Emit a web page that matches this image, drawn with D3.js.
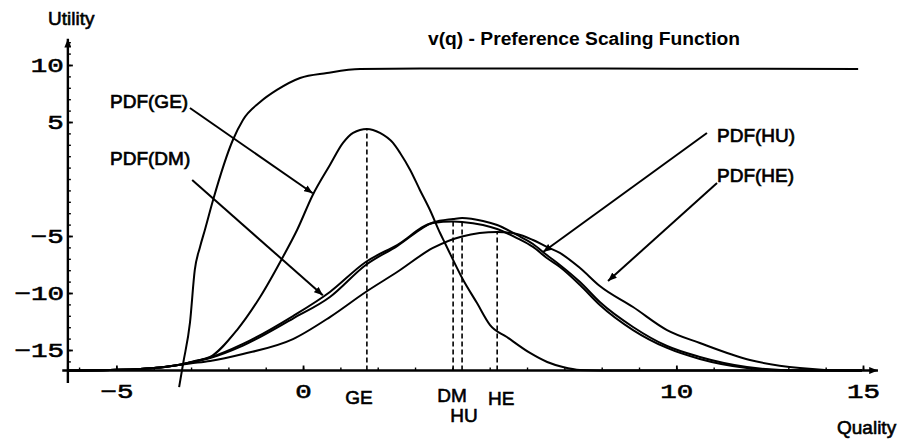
<!DOCTYPE html>
<html>
<head>
<meta charset="utf-8">
<script src="https://cdn.jsdelivr.net/npm/d3@7"></script>
<style>
  body { margin: 0; background: #fff; }
  svg { font-family: "Liberation Sans", Arial, sans-serif; }
</style>
</head>
<body>
<div id="chart"></div>
<script>
// ---- data: [quality, utility] ----
var vq = [[-3.32,-18.25],[-3.21,-16.14],[-3.03,-12.63],[-2.90,-7.98],[-2.76,-5.96],[-2.63,-4.47],
  [-2.41,-1.84],[-1.88,3.42],[-1.61,5.18],[-1.15,6.75],[-0.70,7.81],[-0.08,8.86],[0.64,9.30],
  [1.53,9.65],[3.13,9.69],[6.0,9.69],[10.0,9.68],[14.87,9.66]];

var pdfGE = [[-6.30,-16.80],[-5.17,-16.75],[-4.37,-16.67],[-3.83,-16.54],[-3.35,-16.32],[-2.90,-15.96],
  [-2.49,-15.61],[-1.77,-13.25],[-1.15,-10.35],[-0.54,-6.84],[-0.16,-4.47],[0.26,-1.40],[0.72,1.23],
  [1.07,3.16],[1.34,4.04],[1.71,4.39],[2.06,4.04],[2.41,3.16],[2.60,2.28],[2.87,0.79],[3.13,-0.96],
  [3.40,-2.72],[3.67,-4.74],[3.80,-5.61],[4.29,-8.86],[4.66,-10.88],[5.01,-12.81],[5.46,-13.86],
  [6.08,-15.26],[6.54,-16.05],[6.96,-16.49],[7.42,-16.75],[8.49,-16.80],[14.97,-16.80]];

var pdfDM = [[-6.30,-16.80],[-5.17,-16.75],[-4.37,-16.67],[-3.83,-16.54],[-3.35,-16.32],[-3.03,-16.10],
  [-2.49,-15.66],[-1.61,-14.47],[-0.27,-12.02],[0.72,-9.91],[1.68,-7.28],[2.52,-5.79],[3.48,-3.86],
  [4.02,-3.73],[4.26,-3.77],[4.82,-4.04],[5.20,-4.39],[5.73,-5.18],[6.16,-5.96],[6.53,-6.93],
  [6.88,-7.72],[7.42,-9.30],[7.95,-11.05],[8.84,-13.25],[9.75,-14.82],[10.63,-15.79],[11.89,-16.58],
  [13.04,-16.80],[14.97,-16.80]];

var pdfHU = [[-6.30,-16.80],[-5.17,-16.75],[-4.37,-16.67],[-3.83,-16.54],[-3.35,-16.32],[-3.03,-16.10],
  [-2.49,-15.70],[-1.61,-14.61],[-0.27,-12.24],[0.72,-10.35],[1.68,-7.54],[2.52,-5.88],[3.48,-3.82],
  [4.02,-3.51],[4.26,-3.42],[4.82,-3.68],[5.20,-4.04],[5.73,-4.91],[6.16,-5.70],[6.53,-6.67],
  [6.88,-7.54],[7.42,-9.04],[7.95,-10.79],[8.84,-12.98],[9.75,-14.65],[10.63,-15.61],[11.89,-16.49],
  [13.31,-16.80],[14.97,-16.80]];

var pdfHE = [[-6.30,-16.80],[-5.17,-16.75],[-4.37,-16.67],[-3.83,-16.54],[-3.35,-16.32],[-3.03,-16.18],
  [-2.49,-15.96],[-1.61,-15.35],[-0.27,-14.04],[0.72,-12.11],[1.68,-9.91],[2.52,-8.16],[3.48,-6.05],
  [4.26,-5.04],[5.20,-4.65],[5.73,-4.82],[6.16,-5.35],[6.53,-5.96],[6.88,-6.49],[7.42,-7.81],
  [7.95,-9.39],[8.84,-11.23],[9.75,-13.25],[10.63,-14.39],[11.97,-15.88],[13.31,-16.58],
  [14.65,-16.80],[14.97,-16.80]];

// modes of each distribution (dashed lines) and their labels
var modeNames = ["GE", "DM", "HU", "HE"];
var modeQ = [1.71, 4.02, 4.26, 5.20];
var modeTop = [4.39, -3.77, -3.42, -4.65];

var xTickValues = [-5, 0, 10, 15];
var yTickValues = [10, 5, -5, -10, -15];

var baseline = -16.8;   // where the quality axis sits

// ---- scales ----
var width = 903, height = 440;
var x = d3.scaleLinear().domain([-5, 15]).range([116.4, 863.0]);
var y = d3.scaleLinear().domain([-15, 10]).range([350, 65]);

var svg = d3.select("#chart")
  .append("svg")
    .attr("width", width)
    .attr("height", height);

var defs = svg.append("defs");
defs.append("marker")
    .attr("id", "tip")
    .attr("markerUnits", "userSpaceOnUse")
    .attr("viewBox", "0 -4 10 8")
    .attr("refX", 10).attr("refY", 0)
    .attr("markerWidth", 9).attr("markerHeight", 7)
    .attr("orient", "auto")
  .append("path")
    .attr("d", "M0,-4L10,0L0,4Z")
    .attr("fill", "#000");

var x0 = x(-6.3), yBase = y(baseline);

// ---- axes ----
var tickFont = "'Liberation Mono', 'Courier New', monospace";

function stretchTicks(sel) {
  sel.selectAll("text")
    .style("font-family", tickFont)
    .style("font-size", "21px")
    .attr("fill", "#000")
    .attr("stroke", "#000")
    .attr("stroke-width", 0.6)
    .attr("lengthAdjust", "spacingAndGlyphs")
    .attr("textLength", function() { return this.textContent.length * 16.5; });
}

// minor ticks
svg.append("g")
    .attr("transform", "translate(0," + yBase + ")")
    .call(d3.axisBottom(x).tickValues(d3.range(-6, 16)).tickSize(-3).tickFormat(""))
    .call(function(g) { g.select(".domain").remove(); })
    .selectAll("line").attr("stroke-width", 1.4);

svg.append("g")
    .attr("transform", "translate(" + x0 + ",0)")
    .call(d3.axisLeft(y).tickValues(d3.range(-16, 13)).tickSize(-3).tickFormat(""))
    .call(function(g) { g.select(".domain").remove(); })
    .selectAll("line").attr("stroke-width", 1.4);

// major ticks + labels
var xAxis = svg.append("g")
    .attr("transform", "translate(0," + yBase + ")")
    .call(d3.axisBottom(x).tickValues(xTickValues).tickSize(-5).tickPadding(13))
    .call(function(g) { g.select(".domain").remove(); });
xAxis.selectAll("line").attr("stroke-width", 1.8);
stretchTicks(xAxis);

var yAxis = svg.append("g")
    .attr("transform", "translate(" + x0 + ",0)")
    .call(d3.axisLeft(y).tickValues(yTickValues).tickSize(-5).tickPadding(4))
    .call(function(g) { g.select(".domain").remove(); });
yAxis.selectAll("line").attr("stroke-width", 1.8);
stretchTicks(yAxis);

// axis lines with arrows
svg.append("line")
    .attr("x1", x(-6.45)).attr("x2", x(15.4))
    .attr("y1", yBase).attr("y2", yBase)
    .attr("stroke", "#000").attr("stroke-width", 2.4)
    .attr("marker-end", "url(#tip)");
svg.append("line")
    .attr("x1", x0).attr("x2", x0)
    .attr("y1", y(-17.9)).attr("y2", y(12.3))
    .attr("stroke", "#000").attr("stroke-width", 2.4)
    .attr("marker-end", "url(#tip)");

// axis titles
svg.append("text")
    .attr("x", 48).attr("y", 25)
    .style("font-size", "19px")
    .attr("stroke", "#000").attr("stroke-width", 0.6)
    .text("Utility");
svg.append("text")
    .attr("x", 837).attr("y", 434)
    .style("font-size", "19px")
    .attr("stroke", "#000").attr("stroke-width", 0.6)
    .text("Quality");

// ---- dashed lines at the modes ----
svg.append("g")
  .selectAll("line")
  .data(modeNames)
  .enter()
  .append("line")
    .attr("x1", function(d, i) { return x(modeQ[i]); })
    .attr("x2", function(d, i) { return x(modeQ[i]); })
    .attr("y1", yBase)
    .attr("y2", function(d, i) { return y(modeTop[i]); })
    .attr("stroke", "#000")
    .attr("stroke-width", 1.6)
    .style("stroke-dasharray", "5,3");

// mode labels under the axis
var modeLabelDx = [-8, -1, 2, 4];
var modeLabelY = [404, 402, 422, 405];
svg.append("g")
  .selectAll("text")
  .data(modeNames)
  .enter()
  .append("text")
    .attr("x", function(d, i) { return x(modeQ[i]) + modeLabelDx[i]; })
    .attr("y", function(d, i) { return modeLabelY[i]; })
    .attr("text-anchor", "middle")
    .style("font-size", "19px")
    .attr("stroke", "#000").attr("stroke-width", 0.6)
    .text(function(d) { return d; });

// ---- curves ----
var line = d3.line()
    .x(function(d) { return x(d[0]); })
    .y(function(d) { return y(d[1]); })
    .curve(d3.curveMonotoneX);

var curves = [vq, pdfGE, pdfDM, pdfHU, pdfHE];
svg.append("g")
  .selectAll("path")
  .data(curves)
  .enter()
  .append("path")
    .attr("d", line)
    .attr("fill", "none")
    .attr("stroke", "#000")
    .attr("stroke-width", 2);

// ---- pointers from the labels ----
var pointers = [
  {label: "PDF(GE)", text: [-5.17, 6.23], from: [-3.03, 6.23], to: [0.26, -1.25]},
  {label: "PDF(DM)", text: [-5.17, 1.23], from: [-2.97, -0.09], to: [0.53, -10.20]},
  {label: "PDF(HU)", text: [11.09, 3.25], from: [10.82, 4.04], to: [6.43, -6.40]},
  {label: "PDF(HE)", text: [11.09, -0.26], from: [11.09, -0.35], to: [8.17, -8.95]}
];

svg.append("g")
  .selectAll("line")
  .data(pointers)
  .enter()
  .append("line")
    .attr("x1", function(d) { return x(d.from[0]); })
    .attr("y1", function(d) { return y(d.from[1]); })
    .attr("x2", function(d) { return x(d.to[0]); })
    .attr("y2", function(d) { return y(d.to[1]); })
    .attr("stroke", "#000")
    .attr("stroke-width", 2)
    .attr("marker-end", "url(#tip)");

svg.append("g")
  .selectAll("text")
  .data(pointers)
  .enter()
  .append("text")
    .attr("x", function(d) { return x(d.text[0]); })
    .attr("y", function(d) { return y(d.text[1]); })
    .style("font-size", "19px")
    .attr("stroke", "#000").attr("stroke-width", 0.7)
    .text(function(d) { return d.label; });

// title
svg.append("text")
    .attr("x", 584).attr("y", 45)
    .attr("text-anchor", "middle")
    .style("font-size", "18px")
    .style("font-weight", "bold")
    .attr("textLength", 312)
    .attr("lengthAdjust", "spacingAndGlyphs")
    .text("v(q) - Preference Scaling Function");
</script>
</body>
</html>
